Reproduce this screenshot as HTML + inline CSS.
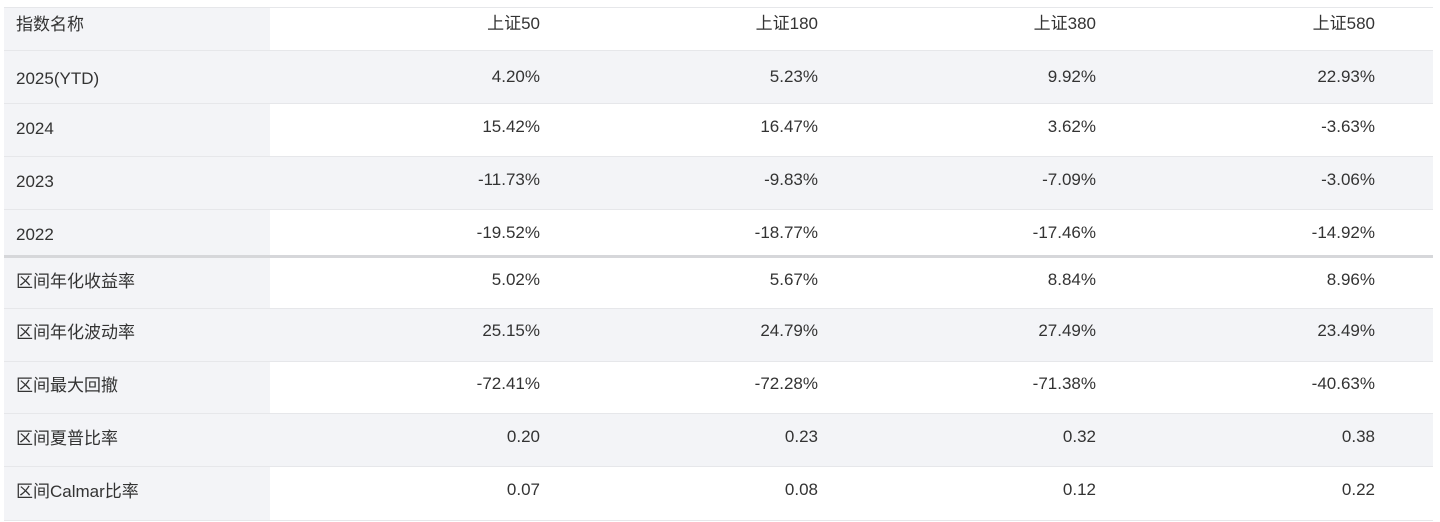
<!DOCTYPE html>
<html><head><meta charset="utf-8"><style>
body{margin:0;width:1440px;height:522px;background:#fff;font-family:"Liberation Sans","Noto Sans CJK SC",sans-serif;color:#333;font-size:17px;position:relative;overflow:hidden}
.r{position:absolute;left:4px;width:1429px;border-top:1px solid #e6e7ea}
.g{background:#f3f4f7}
.c0{position:absolute;left:0;top:0;bottom:0;width:266px;background:#f3f4f7}
.t{position:absolute;white-space:nowrap;line-height:20px}
.l{left:12px}
.v{text-align:right;width:200px}
</style></head><body>
<div class="r" style="top:7px;height:43px"><div class="c0"></div></div>
<div class="r g" style="top:50px;height:53px"></div>
<div class="r" style="top:103px;height:53px"><div class="c0"></div></div>
<div class="r g" style="top:156px;height:53px"></div>
<div class="r" style="top:209px;height:46px"><div class="c0"></div></div>
<div class="r" style="top:255px;height:53px;border-top:3px solid #d6d7da"><div class="c0"></div></div>
<div class="r g" style="top:308px;height:53px"></div>
<div class="r" style="top:361px;height:52px"><div class="c0"></div></div>
<div class="r g" style="top:413px;height:53px"></div>
<div class="r" style="top:466px;height:53px;border-bottom:1px solid #e6e7ea"><div class="c0"></div></div>
<div id="txt"></div>
<script>
var rows=[[13,"指数名称","上证50","上证180","上证380","上证580"],
[66,"2025(YTD)","4.20%","5.23%","9.92%","22.93%"],
[116,"2024","15.42%","16.47%","3.62%","-3.63%"],
[169,"2023","-11.73%","-9.83%","-7.09%","-3.06%"],
[222,"2022","-19.52%","-18.77%","-17.46%","-14.92%"],
[269,"区间年化收益率","5.02%","5.67%","8.84%","8.96%"],
[320,"区间年化波动率","25.15%","24.79%","27.49%","23.49%"],
[373,"区间最大回撤","-72.41%","-72.28%","-71.38%","-40.63%"],
[426,"区间夏普比率","0.20","0.23","0.32","0.38"],
[479,"区间Calmar比率","0.07","0.08","0.12","0.22"]];
var ends=[540,818,1096,1375],h="";
rows.forEach(function(r){var y=r[0]+(r[0]>13?3:2);
h+='<div class="t l" style="top:'+y+'px;left:16px">'+r[1]+'</div>';
for(var i=0;i<4;i++)h+='<div class="t v" style="top:'+(r[0]+1)+'px;left:'+(ends[i]-200)+'px">'+r[i+2]+'</div>';});
document.getElementById("txt").innerHTML=h;
</script>
</body></html>
